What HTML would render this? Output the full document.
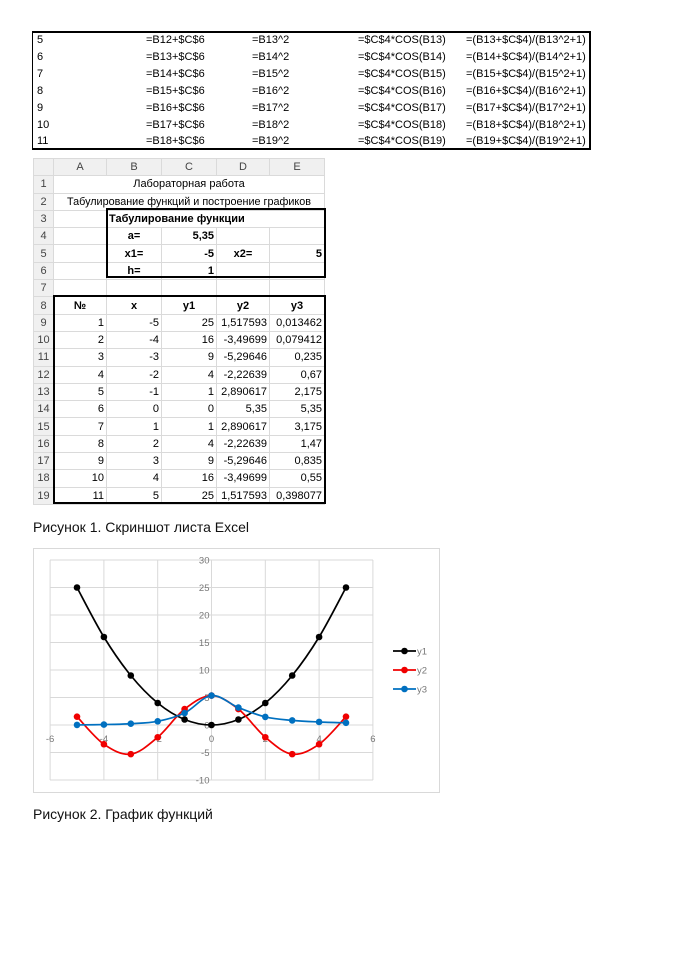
<!DOCTYPE html>
<html><head><meta charset="utf-8"><style>
body{margin:0;width:674px;height:953px;background:#fff;position:relative;font-family:"Liberation Sans","Noto Sans CJK SC",sans-serif;overflow:hidden}
.a{position:absolute;white-space:nowrap}
#t1{position:absolute;left:32px;top:31px;width:559px;height:119px;border:2px solid #000;border-left:1px solid #000;box-sizing:border-box;font-size:11px}
#t1 div{position:absolute}
#xl{position:absolute;left:33px;top:158px;width:293px;height:347px;font-size:11px}
table{border-collapse:collapse;table-layout:fixed;position:absolute;left:0;top:0}
td{border:1px solid #dadada;height:16.3px;padding:0 2px;overflow:visible;white-space:nowrap;line-height:16px}
td.h{background:#f0f0f0;color:#444;text-align:center}
td.r{text-align:right}td.c{text-align:center}td.b{font-weight:bold}
.box{position:absolute;border:2px solid #000;box-sizing:border-box}
.cap{position:absolute;left:33px;font-size:14px;color:#111}
</style></head><body>
<div id="t1"></div>
<div id="xl">
<table id="tb">
<colgroup><col style="width:20px"><col style="width:53px"><col style="width:55px"><col style="width:55px"><col style="width:53px"><col style="width:55px"></colgroup>
<tr><td class="h" style="height:15px"></td><td class="h">A</td><td class="h">B</td><td class="h">C</td><td class="h">D</td><td class="h">E</td></tr>
<tr><td class="h">1</td><td colspan="5" class="c">Лабораторная работа</td></tr>
<tr><td class="h">2</td><td colspan="5" class="c" style="font-size:10.8px">Табулирование функций и построение графиков</td></tr>
<tr><td class="h">3</td><td></td><td colspan="4" class="b">Табулирование функции</td></tr>
<tr><td class="h">4</td><td></td><td class="c b">a=</td><td class="r b">5,35</td><td></td><td></td></tr>
<tr><td class="h">5</td><td></td><td class="c b">x1=</td><td class="r b">-5</td><td class="c b">x2=</td><td class="r b">5</td></tr>
<tr><td class="h">6</td><td></td><td class="c b">h=</td><td class="r b">1</td><td></td><td></td></tr>
<tr><td class="h">7</td><td></td><td></td><td></td><td></td><td></td></tr>
<tr><td class="h">8</td><td class="c b">№</td><td class="c b">x</td><td class="c b">y1</td><td class="c b">y2</td><td class="c b">y3</td></tr>
<tbody id="rows"></tbody>
</table>
<div class="box" style="left:73px;top:50px;width:220px;height:70px"></div>
<div class="box" style="left:20px;top:137px;width:273px;height:209px"></div>
</div>
<div class="cap" style="top:519px">Рисунок 1. Скриншот листа Excel</div>
<svg class="a" style="left:0;top:0" width="674" height="953" id="ch"></svg>
<div class="cap" style="top:806px">Рисунок 2. График функций</div>
<script>
var t1=document.getElementById('t1'),h='';
for(var i=0;i<7;i++){var n=i+5,b=n+8;var r=[n,"=B"+(b-1)+"+$C$6","=B"+b+"^2","=$C$4*COS(B"+b+")","=(B"+b+"+$C$4)/(B"+b+"^2+1)"];
var xs=[4,113,219,325,433];for(var j=0;j<5;j++)h+='<div style="left:'+xs[j]+'px;top:'+(1+i*16.9)+'px">'+r[j]+'</div>';}
t1.innerHTML=h;
var d=[[1,-5,25,"1,517593","0,013462"],[2,-4,16,"-3,49699","0,079412"],[3,-3,9,"-5,29646","0,235"],[4,-2,4,"-2,22639","0,67"],[5,-1,1,"2,890617","2,175"],[6,0,0,"5,35","5,35"],[7,1,1,"2,890617","3,175"],[8,2,4,"-2,22639","1,47"],[9,3,9,"-5,29646","0,835"],[10,4,16,"-3,49699","0,55"],[11,5,25,"1,517593","0,398077"]];
h='';d.forEach(function(r,i){h+='<tr><td class="h">'+(i+9)+'</td>';r.forEach(function(v){h+='<td class="r">'+v+'</td>'});h+='</tr>'});
document.getElementById('rows').innerHTML=h;
var X=function(x){return 211.5+x*26.9},Y=function(y){return 725-y*5.5};
var s='<rect x="33.5" y="548.5" width="406" height="244" fill="#fff" stroke="#d9d9d9"/>';
for(var x=-6;x<=6;x+=2)s+='<line x1="'+X(x)+'" y1="560" x2="'+X(x)+'" y2="780" stroke="#d9d9d9"/>';
for(var y=-10;y<=30;y+=5)s+='<line x1="50" y1="'+Y(y)+'" x2="373" y2="'+Y(y)+'" stroke="#d9d9d9"/>';
for(var y=-10;y<=30;y+=5)s+='<text x="'+(X(0)-2)+'" y="'+(Y(y)+3.5)+'" font-size="9.5" fill="#777" text-anchor="end">'+y+'</text>';
for(var x=-6;x<=6;x+=2)s+='<text x="'+X(x)+'" y="'+(Y(0)+17)+'" font-size="9.5" fill="#777" text-anchor="middle">'+x+'</text>';
var ser=[[2,"#000"],[3,"#f00000"],[4,"#0070c0"]];
var vals=d.map(function(r){return [r[1],r[2],parseFloat(r[3].replace(',','.')),parseFloat(r[4].replace(',','.'))]});
ser.forEach(function(sr){var k=sr[0]-1;var p=vals.map(function(v){return [X(v[0]),Y(v[k])]});
var path='M'+p[0];for(var i=0;i<p.length-1;i++){var p0=p[i-1]||p[i],p1=p[i],p2=p[i+1],p3=p[i+2]||p2;
path+=' C'+(p1[0]+(p2[0]-p0[0])/6)+','+(p1[1]+(p2[1]-p0[1])/6)+' '+(p2[0]-(p3[0]-p1[0])/6)+','+(p2[1]-(p3[1]-p1[1])/6)+' '+p2;}
s+='<path d="'+path+'" fill="none" stroke="'+sr[1]+'" stroke-width="1.7"/>';
p.forEach(function(q){s+='<circle cx="'+q[0]+'" cy="'+q[1]+'" r="3.3" fill="'+sr[1]+'"/>'});});
["y1","y2","y3"].forEach(function(n,i){var yy=651+i*19;var c=ser[i][1];
s+='<line x1="393" y1="'+yy+'" x2="416" y2="'+yy+'" stroke="'+c+'" stroke-width="1.7"/><circle cx="404.5" cy="'+yy+'" r="3.3" fill="'+c+'"/><text x="417" y="'+(yy+3.5)+'" font-size="9.5" fill="#777">'+n+'</text>'});
document.getElementById('ch').innerHTML=s;
</script>
</body></html>
